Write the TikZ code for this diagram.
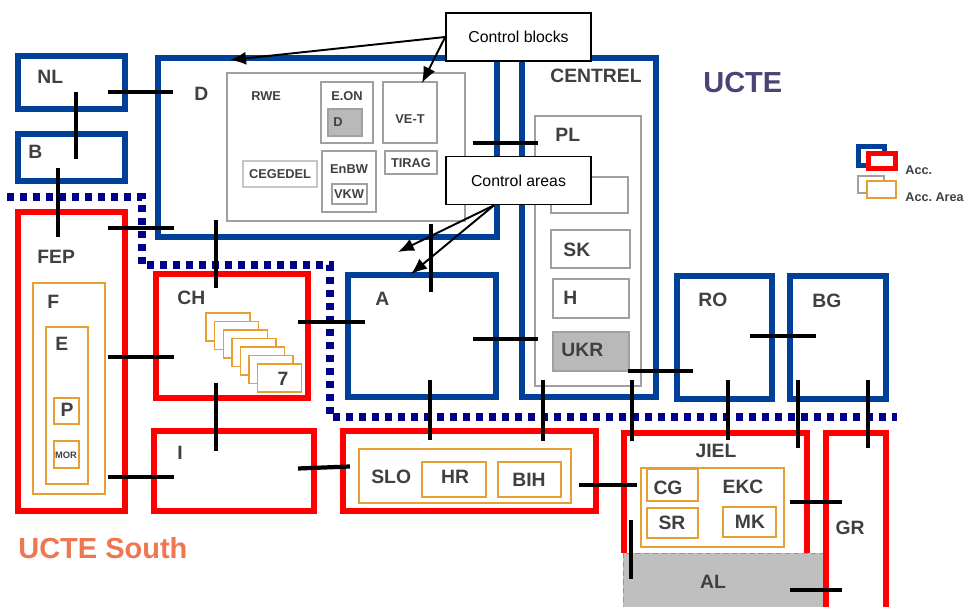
\documentclass[tikz,border=0pt]{standalone}
\usepackage{fontspec}
\setmainfont{Liberation Sans}
\usetikzlibrary{arrows.meta,positioning,calc}
\definecolor{uctblue}{RGB}{0,64,152}
\definecolor{accred}{RGB}{255,0,0}
\definecolor{areaorange}{RGB}{230,160,50}
\definecolor{blockgray}{RGB}{160,160,160}
\definecolor{labelgray}{RGB}{64,64,64}
\definecolor{dotnavy}{RGB}{0,0,140}
\definecolor{uctepurple}{RGB}{72,68,118}
\definecolor{southorange}{RGB}{238,118,80}

\begin{document}
\begin{tikzpicture}[
  x=0.02cm, y=-0.02cm,
  blockbox/.style={draw=uctblue, line width=3.2pt},
  accbox/.style={draw=accred, line width=3.2pt},
  areabox/.style={draw=areaorange, line width=0.8pt, fill=white},
  subbox/.style={draw=blockgray, line width=0.8pt},
  tie/.style={line width=2.4pt, black},
  border/.style={dotnavy, line width=4pt, dash pattern=on 4pt off 3.4pt},
  lbl/.style={inner sep=0pt, anchor=west, text=labelgray, font=\fontsize{11}{13}\selectfont\bfseries},
  minilbl/.style={inner sep=0pt, text=labelgray, font=\fontsize{7.3}{9}\selectfont\bfseries},
  callout/.style={draw, line width=0.9pt, fill=white, minimum width=2.9cm, minimum height=0.96cm, font=\fontsize{9}{11}\selectfont},
  pointer/.style={-{Latex[length=3.2mm, width=2.6mm]}, line width=1.1pt},
]
  \useasboundingbox (0,0) rectangle (966,607);
  \clip (0,0) rectangle (966,607);

  % border UCTE / UCTE South
  \draw[border] (7,197) -- (142,197) -- (142,265) -- (330,265) -- (330,417) -- (897,417);

  % north-west
  \draw[blockbox] (18,56) rectangle (125,109);
  \node[lbl] (nl) at (37,77) {NL};
  \draw[blockbox] (18,134) rectangle (125,181);
  \node[lbl] (b) at (28,152) {B};

  \draw[blockbox] (158,58) rectangle (497,237);
  \node[lbl] (d) at (194,94) {D};
  \draw[subbox] (227,73) rectangle (465,221);
  \node[minilbl, anchor=west] (rwe) at (251,96) {RWE};
  \draw[subbox] (321,82) rectangle (373,143);
  \node[minilbl] (eon) at (347,96) {E.ON};
  \draw[subbox, fill=gray!55] (328,109) rectangle (362,136);
  \node[minilbl, anchor=west] (deon) at (333,122) {D};
  \draw[subbox] (383,82) rectangle (437,143);
  \node[minilbl] (vet) at (410,119) {VE-T};
  \draw[subbox, draw=gray!45] (243,161) rectangle (317,187);
  \node[minilbl] (cegedel) at (280,174) {CEGEDEL};
  \draw[subbox] (322,151) rectangle (376,212);
  \node[minilbl] (enbw) at (349,169) {EnBW};
  \draw[subbox] (332,184) rectangle (367,204);
  \node[minilbl] (vkw) at (349,194) {VKW};
  \draw[subbox] (385,151) rectangle (437,174);
  \node[minilbl] (tirag) at (411,163) {TIRAG};

  \draw[blockbox] (522,58) rectangle (656,397);
  \node[lbl, anchor=center] (centrel) at (596,76) {CENTREL};
  \draw[subbox] (535,116) rectangle (641,386);
  \node[lbl] (pl) at (555,135) {PL};
  \draw[subbox] (551,177) rectangle (628,213);
  \draw[subbox] (551,230) rectangle (630,268);
  \node[lbl] (sk) at (563,250) {SK};
  \draw[subbox] (553,279) rectangle (629,318);
  \node[lbl] (h) at (563,298) {H};
  \draw[subbox, fill=gray!55] (553,332) rectangle (629,371);
  \node[lbl] (ukr) at (561,350) {UKR};

  \draw[blockbox] (348,275) rectangle (496,397);
  \node[lbl] (a) at (375,299) {A};
  \draw[blockbox] (677,276) rectangle (772,399);
  \node[lbl] (ro) at (698,300) {RO};
  \draw[blockbox] (790,276) rectangle (886,399);
  \node[lbl] (bg) at (812,301) {BG};

  % south
  \draw[accbox] (18,212) rectangle (125,511);
  \node[lbl] (fep) at (37,257) {FEP};
  \draw[areabox] (33,283) rectangle (105,494);
  \node[lbl] (f) at (47,302) {F};
  \draw[areabox] (46,327) rectangle (88,484);
  \node[lbl] (e) at (55,344) {E};
  \draw[areabox] (54,398) rectangle (79,424);
  \node[lbl, anchor=center] (p) at (67,410) {P};
  \draw[areabox] (54,441) rectangle (79,468);
  \node[minilbl, font=\fontsize{5.3}{6}\selectfont\bfseries] (mor) at (66,455) {MOR};

  \draw[accbox] (156,274) rectangle (308,398);
  \node[lbl] (ch) at (177,298) {CH};
  \foreach \i in {0,...,6}
    \draw[areabox] ({206+8.6*\i},{313+8.5*\i}) rectangle ++(44,28);
  \node[lbl, anchor=center] (seven) at (283,379) {7};

  \draw[accbox] (154,431) rectangle (314,511);
  \node[lbl] (i) at (177,453) {I};

  \draw[accbox] (343,431) rectangle (596,511);
  \draw[areabox] (359,449) rectangle (571,503);
  \node[lbl] (slo) at (371,477) {SLO};
  \draw[areabox] (422,462) rectangle (486,497);
  \node[lbl, anchor=center] (hr) at (455,477) {HR};
  \draw[areabox] (498,462) rectangle (561,497);
  \node[lbl, anchor=center] (bih) at (529,480) {BIH};

  \draw[accbox] (624,553) -- (624,433) -- (807,433) -- (807,553);
  \node[lbl, anchor=center] (jiel) at (716,451) {JIEL};
  \draw[areabox] (641,468) rectangle (784,547);
  \node[lbl, anchor=center] (ekc) at (743,487) {EKC};
  \draw[areabox] (647,469) rectangle (698,501);
  \node[lbl, anchor=center] (cg) at (668,488) {CG};
  \draw[areabox] (647,508) rectangle (698,538);
  \node[lbl, anchor=center] (sr) at (672,523) {SR};
  \draw[areabox] (723,507) rectangle (776,537);
  \node[lbl, anchor=center] (mk) at (750,522) {MK};
  \draw[fill=gray!50, draw=accred!60, densely dashed, line width=0.4pt] (623,553) rectangle (824,620);
  \node[lbl, anchor=center] (al) at (713,582) {AL};

  \draw[accbox] (826,620) -- (826,433) -- (886,433) -- (886,620);
  \node[lbl, anchor=center] (gr) at (850,528) {GR};

  % tie lines
  \foreach \xa/\ya/\xb/\yb in {108/92/173/92, 76/92/76/159, 58/168/58/237, 108/228/174/228,
      216/220/216/288, 431/224/431/292, 473/143/538/143, 108/357/174/357, 108/477/174/477,
      298/322/365/322, 216/383/216/451, 298/468.5/350/466.5, 473/339/538/339, 430/380/430/440,
      543/380/543/441, 632/380/632/441, 628/371/693/371, 750/336/816/336, 728/380/728/440,
      798/380/798/448, 868/380/868/448, 579/485/637/485, 790/502/842/502, 631/520/631/579,
      790/590/842/590}
    \draw[tie] (\xa,\ya) -- (\xb,\yb);

  % callouts
  \node[callout] (blocks) at (518.5,37) {Control blocks};
  \node[callout] (areas) at (518.5,180.5) {Control areas};
  \coordinate (dblock) at (230,60);
  \coordinate (vetblock) at (422,83);
  \coordinate (darea) at (398,252);
  \coordinate (aarea) at (411,274);
  \draw[pointer] (blocks.west) -- (dblock);
  \draw[pointer] (blocks.west) -- (vetblock);
  \draw[pointer] ([xshift=-0.49cm]areas.south) -- (darea);
  \draw[pointer] ([xshift=-0.49cm]areas.south) -- (aarea);

  % titles
  \node[inner sep=0pt, anchor=west, text=uctepurple, font=\fontsize{16.5}{18}\selectfont\bfseries] (ucte) at (703,83) {UCTE};
  \node[inner sep=0pt, anchor=west, text=southorange, font=\fontsize{16.5}{18}\selectfont\bfseries] (south) at (18,548) {UCTE South};

  % legend
  \draw[blockbox] (858.5,146.5) rectangle (884.5,165.5);
  \draw[accbox, fill=white] (868.5,153.5) rectangle (895.5,168.5);
  \node[minilbl, anchor=west, font=\fontsize{7.2}{9}\selectfont\bfseries] (acc) at (905,170) {Acc.};
  \draw[subbox] (858,176) rectangle (884,193);
  \draw[areabox] (867,181) rectangle (896,198);
  \node[minilbl, anchor=west, font=\fontsize{7.2}{9}\selectfont\bfseries] (accarea) at (905,197) {Acc.\ Area};
\end{tikzpicture}
\end{document}
